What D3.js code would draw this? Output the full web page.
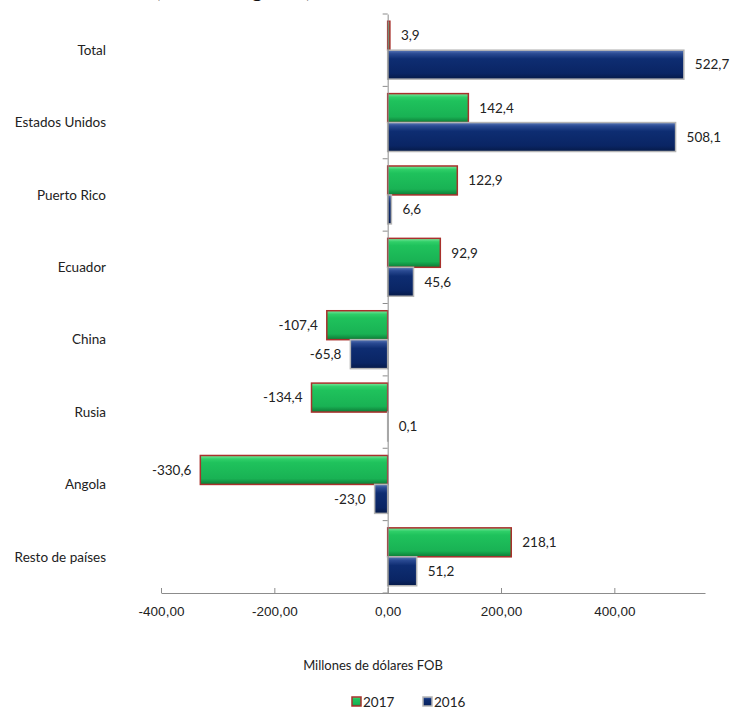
<!DOCTYPE html>
<html>
<head>
<meta charset="utf-8">
<script src="https://cdn.jsdelivr.net/npm/d3@7"></script>
<style>
  body { margin: 0; background: #fff; }
  svg { font-family: Lato, "Open Sans", sans-serif; }
  .tick text { font-size: 13.5px; fill: #222; }
</style>
</head>
<body>
<div id="chart"></div>
<script>
// Data
const categories = ["Total", "Estados Unidos", "Puerto Rico", "Ecuador", "China", "Rusia", "Angola", "Resto de países"];
const years = ["2017", "2016"];
const values2017 = [3.9, 142.4, 122.9, 92.9, -107.4, -134.4, -330.6, 218.1];
const values2016 = [522.7, 508.1, 6.6, 45.6, -65.8, 0.1, -23.0, 51.2];
const xTicks = [-400, -200, 0, 200, 400];

const W = 732, H = 719;
const plot = { left: 161, right: 705, top: 14, bottom: 593 };

// spanish number format with a plain hyphen as minus
const loc = d3.formatLocale({ decimal: ",", thousands: ".", grouping: [3], currency: ["", ""], minus: "-" });
const fmt1 = loc.format(".1f");
const fmt2 = loc.format(".2f");

const svg = d3.select("#chart").append("svg")
  .attr("width", W)
  .attr("height", H);

// gradients for the bevelled bars
const defs = svg.append("defs");
function grad(id, stops) {
  const g = defs.append("linearGradient").attr("id", id)
    .attr("x1", 0).attr("y1", 0).attr("x2", 0).attr("y2", 1);
  stops.forEach(s => g.append("stop").attr("offset", s[0]).attr("stop-color", s[1]));
}
grad("gGreen", [[0, "#7ee8a0"], [0.12, "#2fcf68"], [0.25, "#1fc25c"], [0.8, "#19b254"], [1, "#0d7a36"]]);
grad("gBlue", [[0, "#5a78b8"], [0.12, "#2a4a92"], [0.3, "#0e2d72"], [0.8, "#0a2564"], [1, "#061a48"]]);

const colors = { "2017": "url(#gGreen)", "2016": "url(#gBlue)" };
const strokes = { "2017": "#a8302c", "2016": "#b5b5b5" };

// title (cut off at the top of the picture, as in the original)
svg.append("text")
  .attr("x", 155)
  .attr("y", -3)
  .attr("font-size", 22)
  .attr("font-weight", "bold")
  .attr("fill", "#111")
  .text("(Enero - Agosto)");

// Scales
const x = d3.scaleLinear()
  .domain([-400, 560])
  .range([plot.left, plot.right]);

const y = d3.scaleBand()
  .domain(categories)
  .range([plot.top, plot.bottom]);

const ySub = d3.scaleBand()
  .domain(years)
  .range([0, y.bandwidth()])
  .paddingOuter(0.25);

const rows = categories.map((c, i) => ({
  cat: c,
  vals: [{ year: "2017", v: values2017[i] }, { year: "2016", v: values2016[i] }]
}));

// Bars
const groups = svg.selectAll(".grp")
  .data(rows)
  .enter().append("g")
  .attr("class", "grp")
  .attr("transform", d => `translate(0,${y(d.cat)})`);

groups.selectAll("rect")
  .data(d => d.vals)
  .enter().append("rect")
  .attr("x", d => x(Math.min(0, d.v)))
  .attr("y", d => ySub(d.year))
  .attr("width", d => Math.abs(x(d.v) - x(0)))
  .attr("height", ySub.bandwidth())
  .attr("fill", d => colors[d.year])
  .attr("stroke", d => strokes[d.year])
  .attr("stroke-width", 1.5);

// Value labels
groups.selectAll(".val")
  .data(d => d.vals)
  .enter().append("text")
  .attr("class", "val")
  .attr("x", d => d.v < 0 ? x(d.v) - 9 : x(d.v) + 11)
  .attr("y", d => ySub(d.year) + ySub.bandwidth() / 2)
  .attr("dy", "0.35em")
  .attr("text-anchor", d => d.v < 0 ? "end" : "start")
  .attr("font-size", 13.5)
  .attr("fill", "#222")
  .text(d => fmt1(d.v));

// X axis
const xAxis = svg.append("g")
  .attr("transform", `translate(0,${plot.bottom})`)
  .call(d3.axisBottom(x)
    .tickValues(xTicks)
    .tickSizeInner(-5)
    .tickSizeOuter(0)
    .tickPadding(13)
    .tickFormat(fmt2));
xAxis.select(".domain").attr("stroke", "#8c8c8c");
xAxis.selectAll(".tick line").attr("stroke", "#8c8c8c");

// Y axis at zero
const yAxis = svg.append("g")
  .attr("transform", `translate(${x(0)},0)`)
  .call(d3.axisLeft(y).tickSize(0).tickFormat(""));
yAxis.select(".domain").attr("stroke", "#8c8c8c");
yAxis.selectAll(".tick").remove();
yAxis.selectAll(".cb")
  .data(d3.range(categories.length + 1))
  .enter().append("line")
  .attr("x1", -5).attr("x2", 0)
  .attr("y1", i => plot.top + i * y.step())
  .attr("y2", i => plot.top + i * y.step())
  .attr("stroke", "#8c8c8c");

// Category labels
svg.selectAll(".cat")
  .data(categories)
  .enter().append("text")
  .attr("class", "cat")
  .attr("x", 106)
  .attr("y", d => y(d) + y.bandwidth() / 2)
  .attr("dy", "0.35em")
  .attr("text-anchor", "end")
  .attr("font-size", 13.5)
  .attr("fill", "#222")
  .text(d => d);

// Axis title
svg.append("text")
  .attr("x", 373)
  .attr("y", 665)
  .attr("dy", "0.35em")
  .attr("text-anchor", "middle")
  .attr("font-size", 13)
  .attr("fill", "#222")
  .text("Millones de dólares FOB");

// Legend
const legend = svg.selectAll(".legend")
  .data(years)
  .enter().append("g")
  .attr("class", "legend")
  .attr("transform", (d, i) => `translate(${352 + i * 71},702)`);

legend.append("rect")
  .attr("x", 0)
  .attr("y", -5)
  .attr("width", 9)
  .attr("height", 9)
  .attr("fill", d => colors[d])
  .attr("stroke", d => strokes[d])
  .attr("stroke-width", 1.5);

legend.append("text")
  .attr("x", 11)
  .attr("y", 0)
  .attr("dy", "0.35em")
  .attr("font-size", 13.5)
  .attr("fill", "#222")
  .text(d => d);
</script>
</body>
</html>
